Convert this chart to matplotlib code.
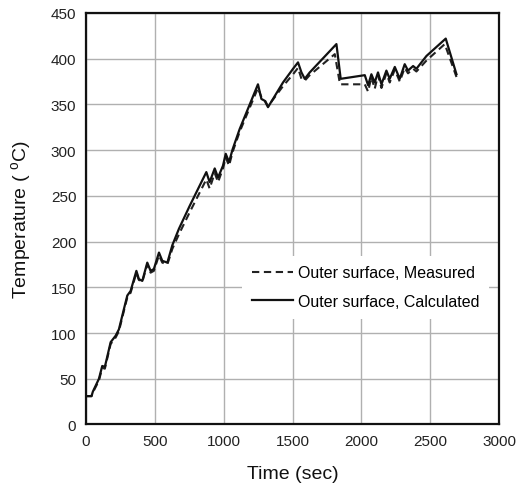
import matplotlib
matplotlib.use("Agg")
import matplotlib.pyplot as plt

plt.rcParams['font.family'] = ['Liberation Sans', 'DejaVu Sans']
plt.rcParams['mathtext.fontset'] = 'custom'
plt.rcParams['mathtext.rm'] = 'Liberation Sans'

# calculated outer surface temperature (solid)
calc_time = [0, 40, 50, 94, 118, 137, 179, 215, 239, 275, 300, 324, 366, 384, 409,
             445, 469, 493, 530, 554, 591, 627, 675, 753, 874, 898, 935, 959, 995,
             1015, 1039, 1065, 1116, 1249, 1274, 1298, 1322, 1431, 1504, 1540, 1565,
             1589, 1625, 1819, 1850, 2025, 2049, 2073, 2097, 2121, 2146, 2182, 2206,
             2243, 2279, 2315, 2339, 2376, 2400, 2473, 2613, 2691]
calc_temp = [31, 31, 36, 50, 64, 63, 90, 97, 104, 126, 141, 146, 168, 159, 157,
             177, 168, 170, 188, 179, 177, 196, 214, 239, 276, 265, 280, 270, 283,
             296, 287, 301, 323, 372, 356, 354, 347, 374, 389, 396, 385,
             378, 385, 416, 378, 382, 371, 383, 374, 385, 372, 387, 378,
             391, 378, 394, 387, 392, 389, 403, 422, 383]

# measured outer surface temperature (dashed)
meas_time = [0, 40, 50, 94, 118, 137, 179, 215, 239, 275, 300, 324, 366, 384, 409,
             445, 469, 493, 530, 554, 591, 627, 675, 753, 874, 898, 935, 959, 995,
             1015, 1039, 1065, 1116, 1249, 1274, 1298, 1322, 1431, 1504, 1540, 1565,
             1589, 1625, 1807, 1845, 2025, 2049, 2073, 2097, 2121, 2146, 2182, 2206,
             2243, 2279, 2315, 2339, 2376, 2400, 2473, 2606, 2691]
meas_temp = [31, 31, 35, 48, 62, 61, 88, 95, 102, 124, 139, 144, 166, 158, 156,
             175, 166, 168, 185, 177, 175, 192, 208, 232, 268, 258, 275, 265, 280,
             292, 283, 298, 320, 368, 358, 355, 348, 370, 383, 390, 378,
             376, 382, 405, 372, 372, 364, 380, 367, 382, 368, 384, 374,
             388, 375, 390, 384, 389, 386, 398, 416, 380]

fig = plt.figure(figsize=(5.26, 4.89), dpi=100)
ax = fig.add_axes([0.1635, 0.1299, 0.7852, 0.8415])

ax.plot(meas_time, meas_temp, color='#222222', lw=1.5, ls=(0, (3.5, 2.2)),
        label="Outer surface, Measured")
ax.plot(calc_time, calc_temp, color='#111111', lw=1.6, ls='-',
        label="Outer surface, Calculated")

ax.set_xlim(0, 3000)
ax.set_ylim(0, 450)
ax.set_xticks(range(0, 3001, 500))
ax.set_yticks(range(0, 451, 50))
ax.grid(True, color='#b0b0b0', lw=1.0)
ax.set_axisbelow(True)
ax.tick_params(length=0, labelsize=11, colors='#222222', pad=7)
for s in ax.spines.values():
    s.set_linewidth(1.6)
    s.set_color('#111111')

ax.set_xlabel("Time (sec)", fontsize=14, color='#111111', labelpad=12)
ax.set_ylabel("Temperature ( $^{\\mathrm{o}}$C)", fontsize=14, color='#111111', labelpad=12)

leg = ax.legend(loc='upper left', bbox_to_anchor=(0.378, 0.41), frameon=True,
                fontsize=11.5, handlelength=2.6, handletextpad=0.3,
                borderpad=0.6, labelspacing=0.85, borderaxespad=0)
leg.get_frame().set_edgecolor('none')
leg.get_frame().set_facecolor('white')
leg.get_frame().set_alpha(1)

plt.savefig("out.png", dpi=100)
